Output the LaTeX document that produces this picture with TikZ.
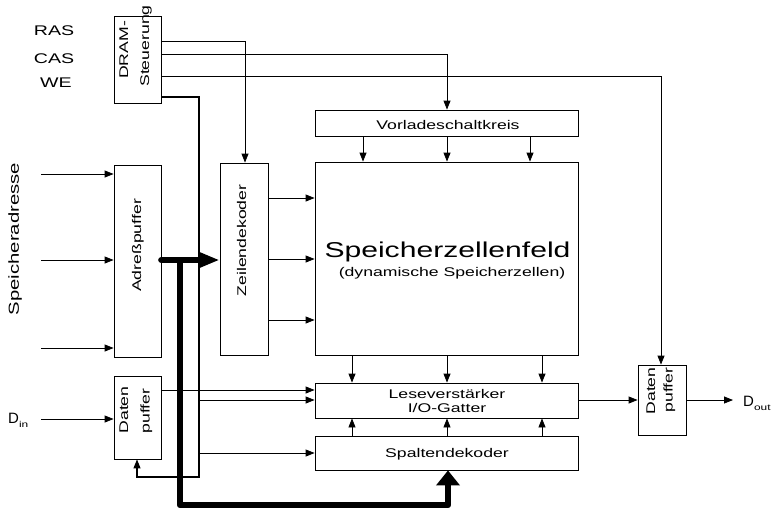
\documentclass[tikz,border=0pt]{standalone}
\usepackage{fontspec}
\setmainfont{Liberation Sans}
\usepackage{graphicx}
\usetikzlibrary{arrows.meta}
\newcommand{\sx}[1]{\scalebox{1.4}[1]{#1}}
\newcommand{\fsz}[1]{\fontsize{#1}{#1}\selectfont}
\begin{document}
\begin{tikzpicture}[x=1pt,y=-1pt,
  box/.style={draw, line width=0.8pt, inner sep=0pt},
  ln/.style={line width=0.8pt},
  arr/.style={ln, -{Triangle[length=9pt,width=7pt]}},
  txt/.style={inner sep=0pt, anchor=base, font=\fsz{12.6}},
  bus/.style={line width=6.5pt}]
\useasboundingbox (0,0) rectangle (774,512);

% boxes
\node[box, minimum width=47pt, minimum height=87pt]  (ctrl)    at (137.5,59.5) {};
\node[box, minimum width=47pt, minimum height=192pt] (adr)     at (137.5,261) {};
\node[box, minimum width=47pt, minimum height=83pt]  (dinbuf)  at (137.5,417.5) {};
\node[box, minimum width=48pt, minimum height=192pt] (zeil)    at (244,259) {};
\node[box, minimum width=263pt, minimum height=26pt] (vorl)    at (446.5,123) {};
\node[box, minimum width=263pt, minimum height=193pt](feld)    at (446.5,258.5) {};
\node[box, minimum width=263pt, minimum height=35pt] (lese)    at (446.5,400.5) {};
\node[box, minimum width=263pt, minimum height=34pt] (spalt)   at (446.5,453) {};
\node[box, minimum width=48pt, minimum height=70pt]  (doutbuf) at (662,400) {};

% texts
\node[txt, font=\fsz{14}] (ras) at (54,35) {\sx{RAS}};
\node[txt, font=\fsz{14}] (cas) at (54,63) {\sx{CAS}};
\node[txt, font=\fsz{14}] (we)  at (56,87) {\sx{WE}};
\node[txt, rotate=90, font=\fsz{14.5}] (sadr) at (19,239) {\sx{Speicheradresse}};
\node[txt, rotate=90] (ctrlA) at (128,50) {\sx{DRAM-}};
\node[txt, rotate=90] (ctrlB) at (149,46) {\sx{Steuerung}};
\node[txt, rotate=90] (adrt)  at (141,245.5) {\sx{Adreßpuffer}};
\node[txt, rotate=90] (zeilt) at (246,240.5) {\sx{Zeilendekoder}};
\node[txt, rotate=90] (dinA)  at (128,410) {\sx{Daten}};
\node[txt, rotate=90] (dinB)  at (149.5,411) {\sx{puffer}};
\node[txt, rotate=90] (doutA) at (655,391) {\sx{Daten}};
\node[txt, rotate=90] (doutB) at (672.5,390) {\sx{puffer}};
\node[txt] (vorlt) at (448,129.3) {\sx{Vorladeschaltkreis}};
\node[txt, font=\fsz{21.5}] (feldt) at (447.5,257) {\sx{Speicherzellenfeld}};
\node[txt] (feldu) at (452,276) {\sx{(dynamische Speicherzellen)}};
\node[txt] (leseA) at (447,398) {\sx{Leseverstärker}};
\node[txt] (leseB) at (447,412) {\sx{I/O-Gatter}};
\node[txt] (spaltt) at (447,457) {\sx{Spaltendekoder}};
\node[txt, anchor=base west, font=\fsz{15}] (din) at (8,423) {D\raisebox{-4pt}{\fsz{8.5}\sx{in}}};
\node[txt, anchor=base west, font=\fsz{15}] (dout) at (743,406) {D\raisebox{-4pt}{\fsz{8.5}\sx{out}}};

% coordinates for free ends
\coordinate (ia1) at (41,174);
\coordinate (ia2) at (41,260);
\coordinate (ia3) at (41,348);
\coordinate (dinx) at (41,419);
\coordinate (doutx) at (733,400);
\coordinate (b1) at (199,400);
\coordinate (b2) at (199,453);
\coordinate (b3) at (199,477);
\coordinate (busj) at (180,260);
\coordinate (busc) at (448,505);

% DRAM control lines
\draw[arr] (ctrl.east |- 0,41) -| (zeil.north -| 245,0);
\draw[arr] (ctrl.east |- 0,54) -| (vorl.north -| 447,0);
\draw[arr] (ctrl.east |- 0,76) -| (doutbuf.north -| 661,0);
\draw[arr, line width=1.1pt] (ctrl.east |- 0,97) -| (b3) -| (dinbuf.south -| 137,0);
\draw[arr] (b1) -- (lese.west |- b1);
\draw[arr] (b2) -- (spalt.west |- b2);

% address inputs
\draw[arr] (ia1) -- (adr.west |- ia1);
\draw[arr] (ia2) -- (adr.west |- ia2);
\draw[arr] (ia3) -- (adr.west |- ia3);
\draw[arr] (dinx) -- (dinbuf.west |- dinx);

% row decoder to cell array
\draw[arr] (zeil.east |- 0,198) -- (feld.west |- 0,198);
\draw[arr] (zeil.east |- 0,259) -- (feld.west |- 0,259);
\draw[arr] (zeil.east |- 0,320) -- (feld.west |- 0,320);

% precharge to cell array
\draw[arr] (vorl.south -| 363,0) -- (feld.north -| 363,0);
\draw[arr] (vorl.south -| 447,0) -- (feld.north -| 447,0);
\draw[arr] (vorl.south -| 530,0) -- (feld.north -| 530,0);

% cell array to sense amps
\draw[arr] (feld.south -| 352,0) -- (lese.north -| 352,0);
\draw[arr] (feld.south -| 447,0) -- (lese.north -| 447,0);
\draw[arr] (feld.south -| 542,0) -- (lese.north -| 542,0);

% column decoder to sense amps
\draw[arr] (spalt.north -| 352,0) -- (lese.south -| 352,0);
\draw[arr] (spalt.north -| 447,0) -- (lese.south -| 447,0);
\draw[arr] (spalt.north -| 542,0) -- (lese.south -| 542,0);

% data paths
\draw[arr] (dinbuf.east |- 0,390) -- (lese.west |- 0,390);
\draw[arr] (lese.east |- doutx) -- (doutbuf.west |- doutx);
\draw[arr] (doutbuf.east |- doutx) -- (doutx);

% address bus
\draw[bus, line cap=round, -{Triangle[length=21pt,width=15pt]}] (adr.east |- busj) -- (zeil.west |- busj);
\draw[bus, line join=round, -{Triangle[length=15pt,width=23pt]}] (busj) |- (busc) -- (spalt.south -| busc);
\end{tikzpicture}
\end{document}
